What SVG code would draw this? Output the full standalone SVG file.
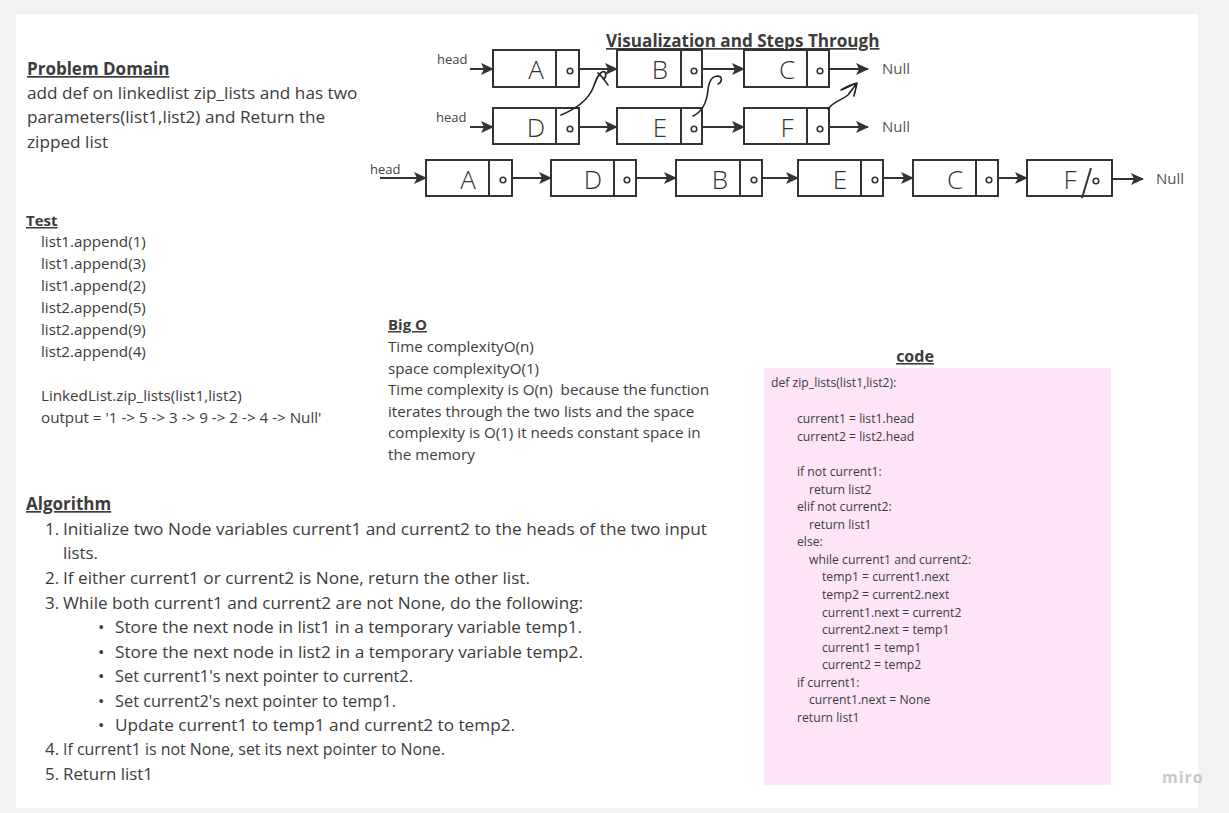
<svg xmlns="http://www.w3.org/2000/svg" width="1229" height="813" viewBox="0 0 1229 813">
<defs>
<style>
text{font-family:"Open Sans","Noto Sans","Liberation Sans",sans-serif;fill:#3c3c3c}
.h{font-weight:bold;text-decoration:underline}
.box{fill:#fff;stroke:#333;stroke-width:2}
.div{stroke:#333;stroke-width:2}
.dot{fill:none;stroke:#333;stroke-width:1.6}
.lt{font-size:26px;font-weight:300;fill:#333;text-anchor:middle}
.hd{font-size:13px;fill:#444}
.nl{font-size:15px;fill:#555}
.ar{fill:none;stroke:#333;stroke-width:2;marker-end:url(#ah)}
.cv{fill:none;stroke:#222;stroke-width:1.6;stroke-linecap:round;stroke-linejoin:round}
.b16{font-size:17.2px}
.b14{font-size:15.2px}
.cd{font-size:12.2px}
.al{font-size:17px}
</style>
<marker id="ah" markerUnits="userSpaceOnUse" markerWidth="14" markerHeight="12" refX="12" refY="6" orient="auto">
<path d="M0,0 L13,6 L0,12 L3,6 z" fill="#333"/>
</marker>
</defs>
<rect x="0" y="0" width="1229" height="813" fill="#f2f2f2"/>
<rect x="16" y="14" width="1182" height="794" fill="#fff"/>

<g id="title"><text x="606" y="47" class="h" font-size="17.1">Visualization and Steps Through</text></g>

<g id="problem">
<text x="27" y="75" class="h" font-size="17">Problem Domain </text>
<text class="b16"><tspan x="27" y="99">add def on linkedlist zip_lists and has two</tspan><tspan x="27" y="123">parameters(list1,list2) and Return the</tspan><tspan x="27" y="148">zipped list</tspan></text>
</g>

<g id="test">
<text x="26" y="226" class="h" font-size="15">Test</text>
<text class="b14" font-size="15.4"><tspan x="41" y="247">list1.append(1)</tspan><tspan x="41" y="269">list1.append(3)</tspan><tspan x="41" y="291">list1.append(2)</tspan><tspan x="41" y="313">list2.append(5)</tspan><tspan x="41" y="335">list2.append(9)</tspan><tspan x="41" y="357">list2.append(4)</tspan><tspan x="41" y="401">LinkedList.zip_lists(list1,list2)</tspan><tspan x="41" y="423">output = '1 -&gt; 5 -&gt; 3 -&gt; 9 -&gt; 2 -&gt; 4 -&gt; Null'</tspan></text>
</g>

<g id="bigo">
<text x="388" y="330" class="h" font-size="15">Big O </text>
<text class="b14"><tspan x="388" y="352">Time complexityO(n)</tspan><tspan x="388" y="374">space complexityO(1)</tspan><tspan x="388" y="395" xml:space="preserve">Time complexity is O(n)  because the function</tspan><tspan x="388" y="417">iterates through the two lists and the space</tspan><tspan x="388" y="438">complexity is O(1) it needs constant space in</tspan><tspan x="388" y="460">the memory</tspan></text>
</g>

<g id="algorithm">
<text x="26" y="510" class="h" font-size="17">Algorithm</text>
<text class="al">
<tspan x="45" y="535">1.</tspan><tspan x="63" y="535" textLength="644" lengthAdjust="spacingAndGlyphs">Initialize two Node variables current1 and current2 to the heads of the two input</tspan>
<tspan x="63" y="559" textLength="35" lengthAdjust="spacingAndGlyphs">lists.</tspan>
<tspan x="45" y="584">2.</tspan><tspan x="63" y="584" textLength="467" lengthAdjust="spacingAndGlyphs">If either current1 or current2 is None, return the other list.</tspan>
<tspan x="45" y="609">3.</tspan><tspan x="63" y="609" textLength="520" lengthAdjust="spacingAndGlyphs">While both current1 and current2 are not None, do the following:</tspan>
<tspan x="98" y="633">•</tspan><tspan x="115" y="633" textLength="467" lengthAdjust="spacingAndGlyphs">Store the next node in list1 in a temporary variable temp1.</tspan>
<tspan x="98" y="658">•</tspan><tspan x="115" y="658" textLength="468" lengthAdjust="spacingAndGlyphs">Store the next node in list2 in a temporary variable temp2.</tspan>
<tspan x="98" y="682">•</tspan><tspan x="115" y="682" textLength="298" lengthAdjust="spacingAndGlyphs">Set current1's next pointer to current2.</tspan>
<tspan x="98" y="707">•</tspan><tspan x="115" y="707" textLength="281" lengthAdjust="spacingAndGlyphs">Set current2's next pointer to temp1.</tspan>
<tspan x="98" y="731">•</tspan><tspan x="115" y="731" textLength="400" lengthAdjust="spacingAndGlyphs">Update current1 to temp1 and current2 to temp2.</tspan>
<tspan x="45" y="755">4.</tspan><tspan x="63" y="755" textLength="382" lengthAdjust="spacingAndGlyphs">If current1 is not None, set its next pointer to None.</tspan>
<tspan x="45" y="780">5.</tspan><tspan x="63" y="780" textLength="90" lengthAdjust="spacingAndGlyphs">Return list1</tspan>
</text>
</g>

<g id="code">
<text x="915" y="362" class="h" font-size="16" text-anchor="middle">code</text>
<rect x="764" y="368" width="347" height="417" fill="#fde4f9"/>
<text class="cd">
<tspan x="771" y="387">def zip_lists(list1,list2):</tspan>
<tspan x="797" y="423">current1 = list1.head</tspan>
<tspan x="797" y="441">current2 = list2.head</tspan>
<tspan x="797" y="476">if not current1:</tspan>
<tspan x="809" y="494">return list2</tspan>
<tspan x="797" y="511">elif not current2:</tspan>
<tspan x="809" y="529">return list1</tspan>
<tspan x="797" y="546">else:</tspan>
<tspan x="809" y="564">while current1 and current2:</tspan>
<tspan x="822" y="581">temp1 = current1.next</tspan>
<tspan x="822" y="599">temp2 = current2.next</tspan>
<tspan x="822" y="617">current1.next = current2</tspan>
<tspan x="822" y="634">current2.next = temp1</tspan>
<tspan x="822" y="652">current1 = temp1</tspan>
<tspan x="822" y="669">current2 = temp2</tspan>
<tspan x="797" y="687">if current1:</tspan>
<tspan x="809" y="704">current1.next = None</tspan>
<tspan x="797" y="722">return list1</tspan>
</text>
</g>

<g id="labels">
<text x="437" y="64" class="hd">head</text>
<text x="436" y="122" class="hd">head</text>
<text x="370" y="174" class="hd">head</text>
<text x="882" y="74" class="nl">Null</text>
<text x="882" y="132" class="nl">Null</text>
<text x="1156" y="184" class="nl">Null</text>
</g>

<g id="node-A1"><rect x="493" y="50" width="86" height="37" class="box"/><line x1="556" y1="50" x2="556" y2="87" class="div"/><text x="536" y="79" class="lt">A</text><circle cx="570" cy="71" r="2.8" class="dot"/></g>
<g id="node-B1"><rect x="617" y="50" width="85" height="37" class="box"/><line x1="681" y1="50" x2="681" y2="87" class="div"/><text x="660" y="79" class="lt">B</text><circle cx="694" cy="71" r="2.8" class="dot"/></g>
<g id="node-C1"><rect x="744" y="50" width="85" height="37" class="box"/><line x1="807" y1="50" x2="807" y2="87" class="div"/><text x="787" y="79" class="lt">C</text><circle cx="820" cy="71" r="2.8" class="dot"/></g>
<g id="node-D1"><rect x="493" y="108" width="86" height="36" class="box"/><line x1="556" y1="108" x2="556" y2="144" class="div"/><text x="536" y="137" class="lt">D</text><circle cx="570" cy="129" r="2.8" class="dot"/></g>
<g id="node-E1"><rect x="617" y="108" width="85" height="36" class="box"/><line x1="681" y1="108" x2="681" y2="144" class="div"/><text x="660" y="137" class="lt">E</text><circle cx="694" cy="129" r="2.8" class="dot"/></g>
<g id="node-F1"><rect x="744" y="108" width="85" height="36" class="box"/><line x1="807" y1="108" x2="807" y2="144" class="div"/><text x="787" y="137" class="lt">F</text><circle cx="820" cy="129" r="2.8" class="dot"/></g>

<g id="node-A2"><rect x="426" y="160" width="86" height="36" class="box"/><line x1="489" y1="160" x2="489" y2="196" class="div"/><text x="468" y="189" class="lt">A</text><circle cx="503" cy="180" r="2.8" class="dot"/></g>
<g id="node-D2"><rect x="551" y="160" width="85" height="36" class="box"/><line x1="614" y1="160" x2="614" y2="196" class="div"/><text x="593" y="189" class="lt">D</text><circle cx="627" cy="180" r="2.8" class="dot"/></g>
<g id="node-B2"><rect x="676" y="160" width="86" height="36" class="box"/><line x1="740" y1="160" x2="740" y2="196" class="div"/><text x="720" y="189" class="lt">B</text><circle cx="754" cy="180" r="2.8" class="dot"/></g>
<g id="node-E2"><rect x="798" y="160" width="85" height="36" class="box"/><line x1="861" y1="160" x2="861" y2="196" class="div"/><text x="840" y="189" class="lt">E</text><circle cx="875" cy="180" r="2.8" class="dot"/></g>
<g id="node-C2"><rect x="913" y="160" width="85" height="36" class="box"/><line x1="976" y1="160" x2="976" y2="196" class="div"/><text x="955" y="189" class="lt">C</text><circle cx="989" cy="180" r="2.8" class="dot"/></g>
<g id="node-F2"><rect x="1027" y="160" width="85" height="36" class="box"/><line x1="1091" y1="168" x2="1082" y2="198" class="div"/><text x="1070" y="189" class="lt">F</text><circle cx="1096" cy="181" r="2.8" class="dot"/></g>

<g id="connectors">
<line x1="470" y1="69" x2="493" y2="69" class="ar"/>
<line x1="470" y1="127" x2="493" y2="127" class="ar"/>
<line x1="380" y1="178" x2="426" y2="178" class="ar"/>
<line x1="579" y1="69" x2="617" y2="69" class="ar"/>
<line x1="702" y1="69" x2="744" y2="69" class="ar"/>
<line x1="829" y1="69" x2="868" y2="69" class="ar"/>
<line x1="579" y1="127" x2="617" y2="127" class="ar"/>
<line x1="702" y1="127" x2="744" y2="127" class="ar"/>
<line x1="829" y1="127" x2="868" y2="127" class="ar"/>
<line x1="512" y1="178" x2="551" y2="178" class="ar"/>
<line x1="636" y1="178" x2="676" y2="178" class="ar"/>
<line x1="762" y1="178" x2="798" y2="178" class="ar"/>
<line x1="883" y1="178" x2="913" y2="178" class="ar"/>
<line x1="998" y1="178" x2="1027" y2="178" class="ar"/>
<line x1="1112" y1="179" x2="1143" y2="179" class="ar"/>
<path class="cv" d="M561,115 C578,108 588,100 593,88 C596,80 598,74 602,72 C606,70 607,76 604,79 M598,73 C602,76 605,81 608,85"/>
<path class="cv" d="M693,116 C704,111 707,100 708,90 C709,80 712,76 718,76 C723,77 722,82 718,84"/>
<path class="cv" d="M828,109 C834,101 842,100 848,95 L857,83 M857,83 C852,85 846,88 841,90 C846,87 852,84 857,83 M857,83 C856,88 855,92 854,96"/>
</g>

<text x="1162" y="783" font-size="16" font-weight="bold" style="fill:#c8c8cc;letter-spacing:1px">miro</text>
</svg>
